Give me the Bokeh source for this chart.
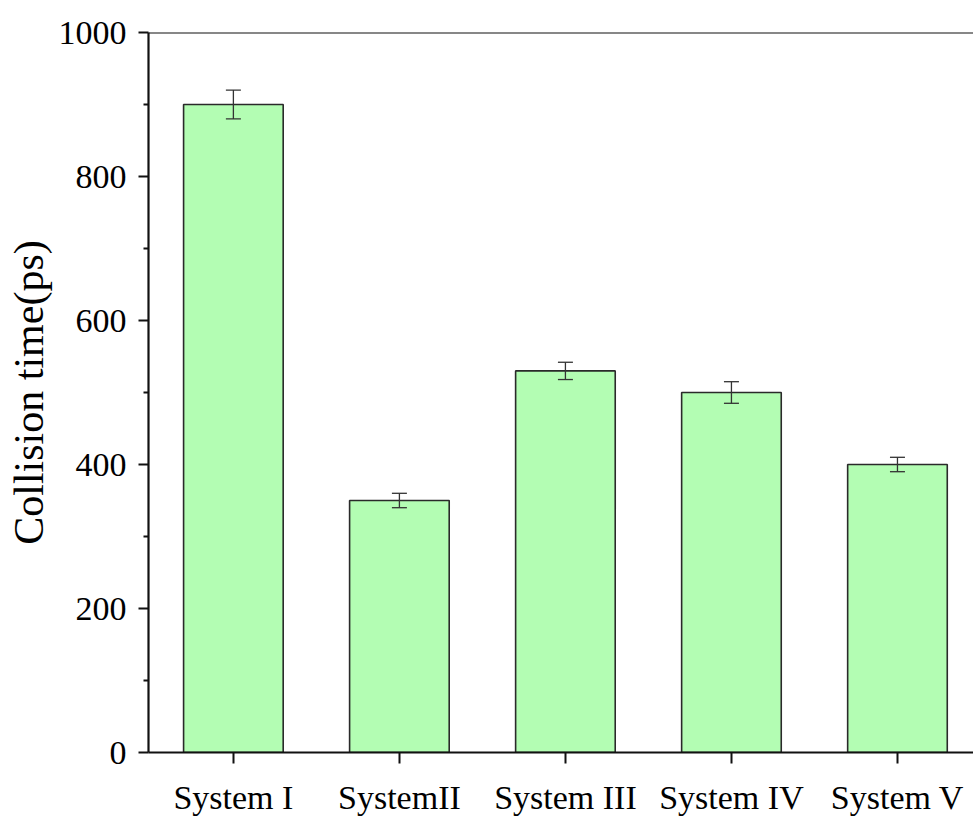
from bokeh.plotting import figure
from bokeh.models import ColumnDataSource, Range1d, Span, Whisker, FixedTicker, TeeHead
from bokeh.embed import file_html
from bokeh.resources import INLINE

categories = ["System I", "SystemII", "System III", "System IV", "System V"]
positions = [1, 2, 3, 4, 5]
values = [900, 350, 530, 500, 400]
errors = [20, 10, 12, 15, 10]
y_ticks = [0, 200, 400, 600, 800, 1000]

src = ColumnDataSource(dict(
    x=positions, top=values,
    upper=[v + e for v, e in zip(values, errors)],
    lower=[v - e for v, e in zip(values, errors)],
))

FONT = "Liberation Serif"

p = figure(frame_width=825, frame_height=720, output_backend="svg", toolbar_location=None,
           x_range=Range1d(0.4887, 5.458), y_range=Range1d(0, 1000),
           min_border_left=148, min_border_right=0, min_border_top=32, min_border_bottom=60,
           background_fill_color="white", border_fill_color="white")
p.outline_line_color = None
p.grid.visible = False

p.vbar(x="x", top="top", width=0.6, bottom=0, source=src,
       fill_color="#b3fdb3", line_color="#2a2a2a", line_width=1.6)

w = Whisker(base="x", upper="upper", lower="lower", source=src,
            line_color="#333333", line_width=1.3, level="overlay",
            upper_head=TeeHead(size=15, line_color="#333333", line_width=1.3),
            lower_head=TeeHead(size=15, line_color="#333333", line_width=1.3))
p.add_layout(w)

p.add_layout(Span(location=1000, dimension="width", line_color="#111111", line_width=2.2))

# x axis
xa = p.xaxis[0]
xa.ticker = FixedTicker(ticks=positions)
xa.major_label_overrides = {pos: lab for pos, lab in zip(positions, categories)}
xa.major_label_text_font = FONT
xa.major_label_text_font_size = "34px"
xa.major_label_text_color = "black"
xa.major_label_standoff = 15
xa.major_tick_in = 0
xa.major_tick_out = 11
xa.minor_tick_line_color = None
xa.axis_line_width = 2.2
xa.major_tick_line_width = 2
xa.axis_line_color = "#111111"
xa.major_tick_line_color = "#111111"

# y axis
ya = p.yaxis[0]
ya.ticker = FixedTicker(ticks=y_ticks, minor_ticks=[100, 300, 500, 700, 900])
ya.major_label_text_font = FONT
ya.major_label_text_font_size = "34px"
ya.major_label_text_color = "black"
ya.major_label_standoff = 12
ya.major_tick_in = 0
ya.major_tick_out = 10
ya.minor_tick_in = 0
ya.minor_tick_out = 5
ya.axis_line_width = 2.2
ya.major_tick_line_width = 2
ya.minor_tick_line_width = 1.8
ya.axis_line_color = "#111111"
ya.major_tick_line_color = "#111111"
ya.minor_tick_line_color = "#111111"
ya.axis_label = "Collision time(ps)"
ya.axis_label_text_font = FONT
ya.axis_label_text_font_size = "42px"
ya.axis_label_text_font_style = "normal"
ya.axis_label_text_color = "black"
ya.axis_label_standoff = 4

open("out.html", "w").write(file_html(p, INLINE))
